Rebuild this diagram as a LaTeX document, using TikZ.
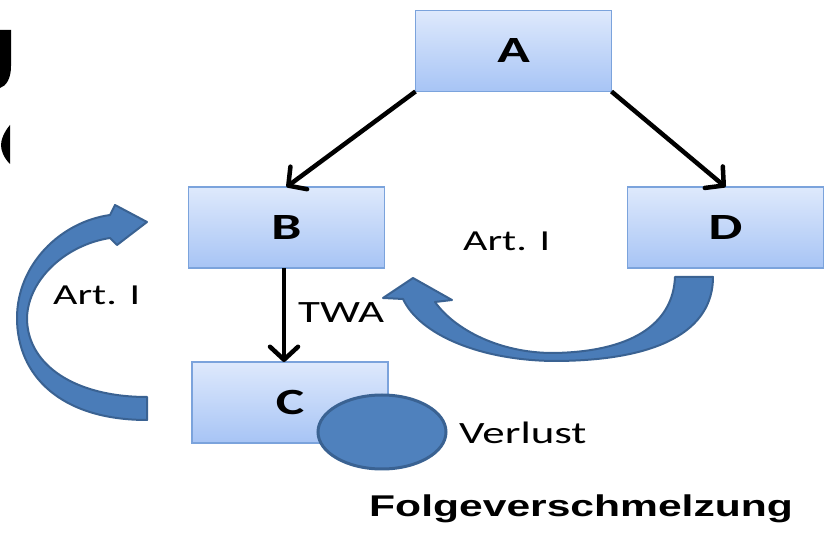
\documentclass[tikz,border=0pt]{standalone}
\usepackage{fontspec}
\setmainfont{Carlito}[FakeStretch=1.45]
\newfontfamily\titlefont{Liberation Sans}[FakeStretch=1.42]
\usetikzlibrary{arrows.meta,calc,shapes.geometric}
\definecolor{boxtop}{HTML}{DEE9FC}
\definecolor{boxbot}{HTML}{A7C4F5}
\definecolor{boxline}{HTML}{7BA3DC}
\definecolor{bluefill}{HTML}{4A7CB8}
\definecolor{blueline}{HTML}{3A6292}
\definecolor{bubblefill}{HTML}{4F81BD}
\tikzset{
  box/.style={rectangle, draw=boxline, line width=1.5pt, top color=boxtop,
    bottom color=boxbot, minimum width=196pt, minimum height=81pt,
    inner sep=0pt, outer sep=0pt, font=\fontsize{37}{42}\selectfont\bfseries},
  link/.style={line width=4.5pt, black,
    -{Straight Barb[length=13pt,width=28pt,line width=4.5pt,round]}},
  label/.style={inner sep=0pt, anchor=base west},
  bentarrow/.style={fill=bluefill, draw=blueline, line width=2pt, line join=round},
}
\begin{document}
\begin{tikzpicture}[x=1pt,y=-1pt]
\useasboundingbox (0,0) rectangle (825,534);

% partly hidden heading glyphs at the left border
\fill[black] (0,30) -- (11,30) -- (11,66) .. controls (11,79) and (6,86) .. (0,88) -- cycle;
\fill[black] (10,125) .. controls (4,132) and (1,140) .. (1,145)
  .. controls (1,151) and (4,158) .. (10,164) -- cycle;

% boxes
\node[box] (A) at (513.5,51) {A};
\node[box] (B) at (286.5,227.5) {B};
\node[box] (D) at (725.5,227.5) {D};
\node[box] (C) at (290,402.5) {C};

% loss bubble
\node[ellipse, draw=blueline, line width=3pt, fill=bubblefill,
  minimum width=128pt, minimum height=74pt, inner sep=0pt] (V) at (382,432) {};

% straight connectors
\coordinate (bc0) at (284,268);
\coordinate (bc1) at (bc0 |- C.north);
\draw[link] (A.south west) -- (B.north);
\draw[link] (A.south east) -- (D.north);
\draw[link] (bc0) -- (bc1);

% curved block arrow on the left (C back to B)
\draw[bentarrow] (147,420) .. controls (60,420) and (17,375) .. (17,318)
  .. controls (17,265) and (60,222) .. (110,215) -- (115,205) -- (147,222)
  -- (117,245) -- (110,238) .. controls (65,245) and (28,280) .. (27,318)
  .. controls (27,365) and (75,397) .. (147,397) -- cycle;

% curved block arrow below (D back to B)
\draw[bentarrow] (713,277) .. controls (713,330) and (660,361) .. (553,361)
  .. controls (480,360) and (420,335) .. (403,299) -- (383,298) -- (413,278)
  -- (452,300) -- (435,302) .. controls (455,330) and (500,353) .. (553,353)
  .. controls (630,352) and (673,325) .. (675,277) -- cycle;

% labels
\node[label, font=\fontsize{29}{33}\selectfont] (l1) at (463,251) {Art. I};
\node[label, font=\fontsize{29}{33}\selectfont] (l2) at (53,305) {Art. I};
\node[label, font=\fontsize{31}{36}\selectfont] (l3) at (298,323) {TWA};
\node[label, font=\fontsize{31}{36}\selectfont] (l4) at (459,444) {Verlust};
\node[label, font=\titlefont\fontsize{30}{35}\selectfont\bfseries] (t) at (369,516) {Folgeverschmelzung};
\end{tikzpicture}
\end{document}
